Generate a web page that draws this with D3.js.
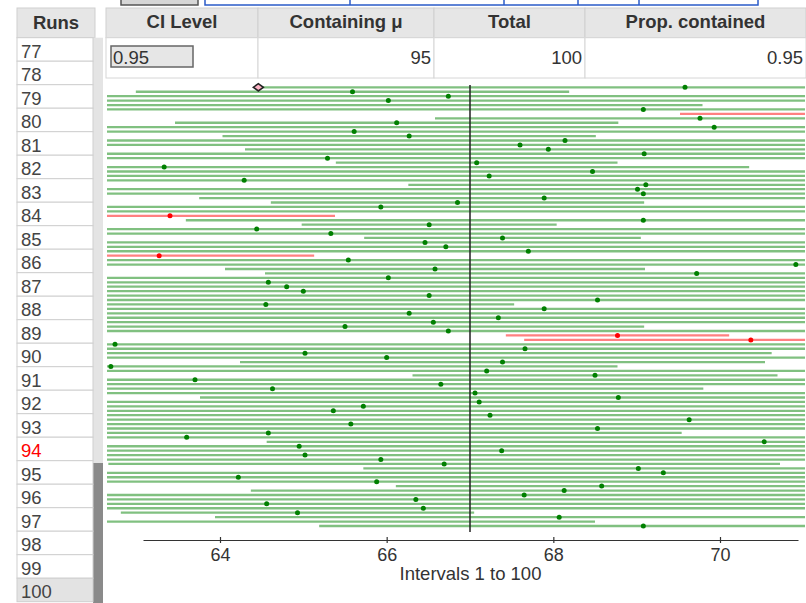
<!DOCTYPE html>
<html><head><meta charset="utf-8">
<script src="https://cdn.jsdelivr.net/npm/d3@7"></script>
<style>
body{margin:0;background:#fff;}
svg{display:block;font-family:"Liberation Sans",Arial,sans-serif;}
</style>
</head><body>
<svg id="c" width="806" height="603"></svg>
<script>
// ---------- data ----------
const runLabels = [77,78,79,80,81,82,83,84,85,86,87,88,89,90,91,92,93,94,95,96,97,98,99,100];
const highlightedRun = 94;
const selectedRun = 100;
const tableHeaders = ["CI Level", "Containing \u03bc", "Total", "Prop. contained"];
const tableValues = ["0.95", "95", "100", "0.95"];
const muValue = 67;
const xTicks = [64, 66, 68, 70];
const axisLabel = "Intervals 1 to 100";
const sampleMeans = [
  69.58,65.59,66.74,66.02,62.32,69.08,71.44,69.76,66.12,69.93,
  65.61,66.27,68.14,67.60,67.94,69.09,65.29,67.08,63.33,68.47,
  67.23,64.29,69.11,69.01,69.08,67.89,66.85,65.93,61.96,63.40,
  69.08,66.51,64.44,65.33,67.39,66.46,66.71,67.70,63.27,65.54,
  70.91,66.58,69.72,66.02,64.58,64.80,65.00,66.51,68.53,64.55,
  67.89,66.27,67.34,66.56,65.50,66.74,68.77,70.37,62.74,67.66,
  65.02,66.00,67.39,62.69,67.20,68.50,63.70,66.65,64.63,67.06,
  68.78,67.11,65.72,65.36,67.24,69.63,65.57,68.53,64.58,63.60,
  70.53,64.95,67.38,65.02,65.93,66.69,69.02,69.32,64.22,65.88,
  68.58,68.13,67.65,66.35,64.56,66.44,64.93,68.07,62.20,69.08
];
const marginsOfError = [
  5.12,2.60,4.80,5.40,7.47,6.72,1.92,3.18,2.66,7.68,
  5.76,2.24,5.88,5.28,3.64,6.72,6.00,1.69,7.02,6.12,
  5.04,7.08,2.85,6.72,6.60,4.14,2.24,5.40,9.60,1.98,
  5.49,1.53,6.84,6.00,1.66,5.04,4.80,5.40,1.86,5.76,
  8.64,2.52,5.18,5.28,6.72,6.48,6.24,4.80,6.12,2.98,
  5.52,5.04,5.04,4.80,3.59,4.56,1.34,2.72,8.52,5.28,
  5.60,5.28,3.15,6.08,4.80,2.19,7.56,4.68,5.17,4.68,
  5.02,4.80,5.52,5.88,4.80,7.20,5.64,6.12,4.96,7.68,
  5.97,6.24,5.04,6.24,5.28,4.03,3.30,6.96,7.08,5.40,
  2.47,3.76,5.28,4.92,6.72,4.80,2.12,4.13,6.30,3.89
];

const intervals = sampleMeans.map((m, i) => {
  const lo = m - marginsOfError[i], hi = m + marginsOfError[i];
  return {run: i + 1, mean: m, lo, hi, hit: lo <= muValue && hi >= muValue};
});

// ---------- drawing ----------
const svg = d3.select("#c");
const textCol = "#333";

// partially visible controls at the very top
svg.append("rect").attr("x", 121).attr("y", -5).attr("width", 77).attr("height", 10)
  .attr("fill", "#d6d6d6").attr("stroke", "#555").attr("stroke-width", 1.5);
svg.append("rect").attr("x", 205).attr("y", -5).attr("width", 553).attr("height", 10)
  .attr("fill", "#fff").attr("stroke", "#2a5bc8").attr("stroke-width", 1.5);
svg.selectAll("line.topdiv").data([350, 504, 578, 639]).join("line")
  .attr("x1", d => d).attr("x2", d => d).attr("y1", -5).attr("y2", 5)
  .attr("stroke", "#2a5bc8").attr("stroke-width", 1.5);

// ----- Runs table -----
const runX0 = 17, runX1 = 93, gutterX1 = 103;
const headTop = 8, headBot = 37.7, rowH = 23.5;
svg.append("rect").attr("x", runX0).attr("y", headTop).attr("width", gutterX1 - runX0 - 8)
  .attr("height", headBot - headTop).attr("fill", "#e6e6e6").attr("stroke", "#cfcfcf");
svg.append("text").attr("x", (runX0 + 95) / 2).attr("y", 29).attr("text-anchor", "middle")
  .attr("font-weight", "bold").attr("font-size", 18.5).attr("fill", textCol).text("Runs");

// scroll gutter
svg.append("rect").attr("x", runX1).attr("y", headBot).attr("width", gutterX1 - runX1)
  .attr("height", 603 - headBot).attr("fill", "#e4e4e4");
svg.append("rect").attr("x", runX1).attr("y", 463).attr("width", gutterX1 - runX1)
  .attr("height", 603 - 463).attr("fill", "#8a8a8a");

const rowG = svg.selectAll("g.run").data(runLabels).join("g")
  .attr("transform", (d, i) => `translate(0,${headBot + i * rowH})`);
rowG.append("rect").attr("x", runX0).attr("y", 0).attr("width", runX1 - runX0).attr("height", rowH)
  .attr("fill", d => d === selectedRun ? "#e3e3e3" : "#fff").attr("stroke", "#cfcfcf");
rowG.append("text").attr("x", 21).attr("y", 20).attr("font-size", 18.5)
  .attr("fill", d => d === highlightedRun ? "#ff0000" : "#444").text(d => d);

// ----- summary table -----
const colEdges = [106, 258, 434, 585, 806];
const hdrG = svg.selectAll("g.hdr").data(tableHeaders).join("g");
hdrG.append("rect").attr("x", (d, i) => colEdges[i]).attr("y", headTop)
  .attr("width", (d, i) => colEdges[i + 1] - colEdges[i]).attr("height", headBot - headTop)
  .attr("fill", "#e6e6e6").attr("stroke", "#cfcfcf");
hdrG.append("text").attr("x", (d, i) => (colEdges[i] + colEdges[i + 1]) / 2).attr("y", 27.5)
  .attr("text-anchor", "middle").attr("font-weight", "bold").attr("font-size", 18.5)
  .attr("fill", textCol).text(d => d);

const valG = svg.selectAll("g.val").data(tableValues).join("g");
valG.append("rect").attr("x", (d, i) => colEdges[i]).attr("y", headBot)
  .attr("width", (d, i) => colEdges[i + 1] - colEdges[i]).attr("height", 78 - headBot)
  .attr("fill", "#fff").attr("stroke", "#d6d6d6");
// input box for CI level
valG.filter((d, i) => i === 0).append("rect").attr("x", 111).attr("y", 46).attr("width", 82).attr("height", 21)
  .attr("fill", "#e6e6e6").attr("stroke", "#666").attr("stroke-width", 1.5);
valG.append("text")
  .attr("x", (d, i) => i === 0 ? 113 : colEdges[i + 1] - 3)
  .attr("y", 63.5)
  .attr("text-anchor", (d, i) => i === 0 ? "start" : "end")
  .attr("font-size", 18.5).attr("fill", textCol).text(d => d);

// ----- interval plot -----
const x = d3.scaleLinear().domain([63.076, 70.936]).range([143, 798]);
const y = d3.scalePoint().domain(intervals.map(d => d.run)).range([87.3, 526]);

svg.append("clipPath").attr("id", "plotclip").append("rect")
  .attr("x", 107).attr("y", 80).attr("width", 698).attr("height", 460);

const plot = svg.append("g").attr("clip-path", "url(#plotclip)");
plot.selectAll("line.ci").data(intervals).join("line")
  .attr("class", "ci")
  .attr("x1", d => x(d.lo)).attr("x2", d => x(d.hi))
  .attr("y1", d => y(d.run)).attr("y2", d => y(d.run))
  .attr("stroke", d => d.hit ? "#80c080" : "#ff8080")
  .attr("stroke-width", 2.3);

// mu reference line
svg.append("line").attr("x1", x(muValue)).attr("x2", x(muValue))
  .attr("y1", 85).attr("y2", 532).attr("stroke", "#222").attr("stroke-width", 1.5);

plot.selectAll("circle.pt").data(intervals).join("circle")
  .attr("class", "pt")
  .attr("cx", d => x(d.mean)).attr("cy", d => y(d.run)).attr("r", 2.5)
  .attr("fill", d => d.hit ? "#008000" : "#ff0000");

// marker on the first interval's lower bound
svg.append("path")
  .attr("d", "M-5,0 L0,-3.6 L5,0 L0,3.6 Z")
  .attr("transform", `translate(${x(intervals[0].lo)},${y(1)})`)
  .attr("fill", "#ffb3c6").attr("stroke", "#222").attr("stroke-width", 1.6);

// axis
const axisG = svg.append("g").attr("transform", "translate(0,540)")
  .call(d3.axisBottom(x).tickValues(xTicks).tickSize(3).tickSizeOuter(0).tickFormat(d3.format("d")));
axisG.select(".domain").attr("stroke", "#333").attr("stroke-width", 1.2);
axisG.selectAll(".tick line").attr("y1", -3).attr("y2", 3).attr("stroke", "#333").attr("stroke-width", 1.2);
axisG.selectAll(".tick text").attr("y", 21).attr("dy", 0)
  .attr("font-size", 18).attr("fill", textCol).attr("font-family", "'Liberation Sans',Arial,sans-serif");

svg.append("text").attr("x", (143 + 798) / 2).attr("y", 580).attr("text-anchor", "middle")
  .attr("font-size", 18.5).attr("fill", textCol).text(axisLabel);
</script>
</body></html>
